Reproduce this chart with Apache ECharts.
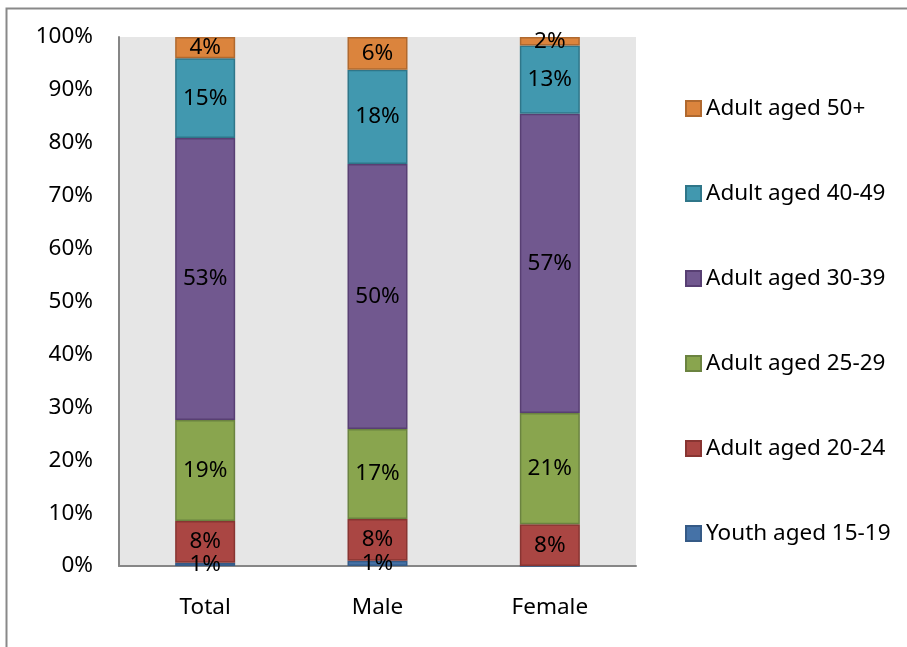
<!DOCTYPE html>
<html>
<head>
<meta charset="utf-8">
<script src="https://cdn.jsdelivr.net/npm/echarts@6/dist/echarts.min.js"></script>
<style>html,body{margin:0;padding:0;background:#fff}#c{width:907px;height:647px}</style>
</head>
<body>
<div id="c"></div>
<script>
const categories = ['Total', 'Male', 'Female'];
const seriesNames = ['Youth aged 15-19', 'Adult aged 20-24', 'Adult aged 25-29', 'Adult aged 30-39', 'Adult aged 40-49', 'Adult aged 50+'];
const youth15_19 = [0.6, 1.0, 0];
const adult20_24 = [7.9, 7.9, 7.9];
const adult25_29 = [19.1, 17.0, 21.0];
const adult30_39 = [53.3, 50.1, 56.6];
const adult40_49 = [15.1, 17.8, 12.9];
const adult50p = [4.0, 6.2, 1.6];
const yTicks = [0, 10, 20, 30, 40, 50, 60, 70, 80, 90, 100];

const values = [youth15_19, adult20_24, adult25_29, adult30_39, adult40_49, adult50p];
const colors = ['#4572A7', '#AA4643', '#89A54E', '#71588F', '#4198AF', '#DB843D'];
const borders = ['#355a86', '#883532', '#6b8340', '#583f73', '#2f7689', '#b0692f'];
const FONT = 'Noto Sans';
const FS = 22.5;

const chart = echarts.init(document.getElementById('c'));
chart.setOption({
  animation: false,
  textStyle: { fontFamily: FONT },
  graphic: [{
    type: 'rect', left: 4, top: 6, silent: true,
    shape: { x: 0, y: 0, width: 920, height: 700 },
    style: { fill: 'none', stroke: '#898989', lineWidth: 2 }
  }],
  grid: { left: 119, top: 37, right: 271, bottom: 81, show: true, backgroundColor: '#E6E6E6', borderWidth: 0 },
  legend: {
    orient: 'vertical', left: 680, top: 92,
    itemWidth: 15, itemHeight: 15, itemGap: 62,
    data: seriesNames.slice().reverse(),
    textStyle: { fontSize: FS, color: '#000', fontFamily: FONT, lineHeight: 22 },
    icon: 'rect'
  },
  xAxis: {
    type: 'category', data: categories,
    axisLine: { lineStyle: { color: '#868686', width: 2 } },
    axisTick: { show: false },
    axisLabel: { fontSize: FS, color: '#000', margin: 30, fontFamily: FONT }
  },
  yAxis: {
    type: 'value', min: yTicks[0], max: yTicks[yTicks.length - 1], interval: 10,
    axisLine: { show: true, lineStyle: { color: '#868686', width: 2 } },
    axisTick: { show: false },
    splitLine: { show: false },
    axisLabel: { fontSize: FS, color: '#000', margin: 26, formatter: '{value}%', fontFamily: FONT }
  },
  series: seriesNames.map((name, i) => ({
    name, type: 'bar', stack: 'all', barWidth: 60,
    data: values[i],
    itemStyle: { color: colors[i], borderColor: borders[i], borderWidth: 1.5 },
    label: {
      show: true, position: 'inside', fontSize: FS, color: '#000', fontFamily: FONT,
      formatter: p => p.value > 0 ? Math.round(p.value) + '%' : ''
    }
  }))
});
</script>
</body>
</html>
